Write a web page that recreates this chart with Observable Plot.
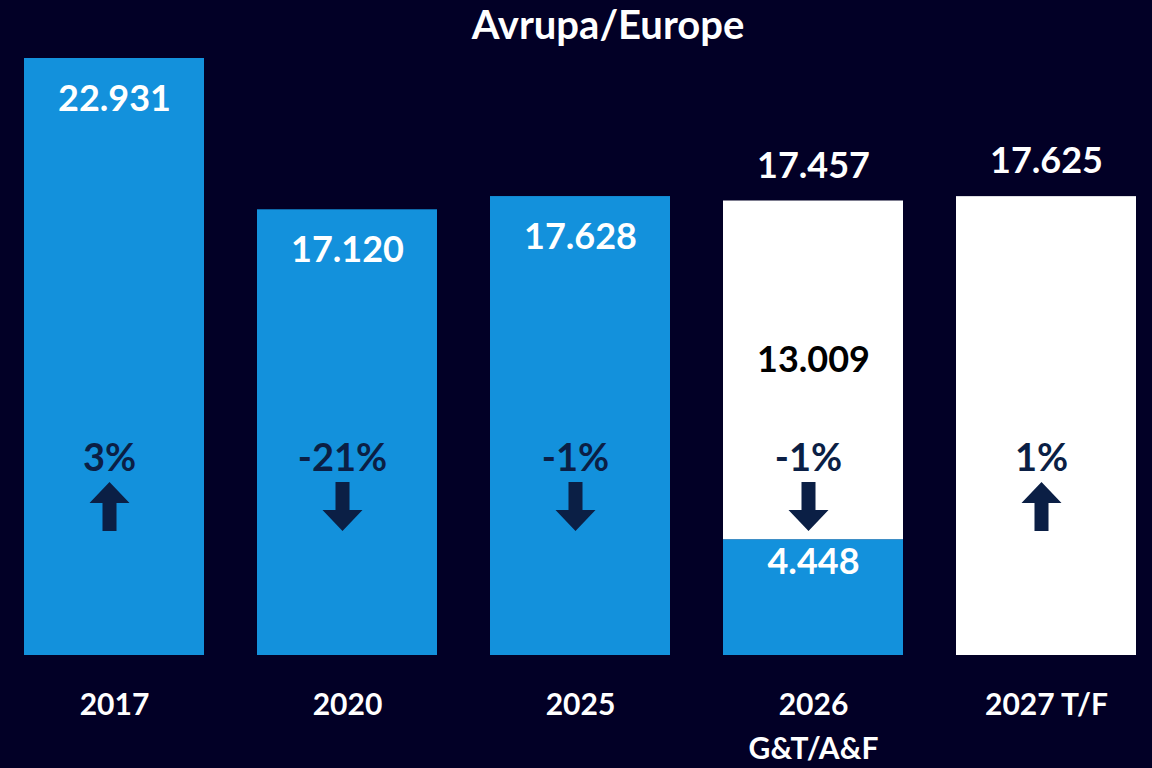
<!DOCTYPE html>
<html><head><meta charset="utf-8">
<script src="https://cdn.jsdelivr.net/npm/d3@7"></script>
<script src="https://cdn.jsdelivr.net/npm/@observablehq/plot@0.6"></script>
<style>
html,body{margin:0;padding:0;background:#020026;overflow:hidden;}
</style></head><body><div id="chart"></div>
<script>
// ---- data ----
const title = "Avrupa/Europe";
const categories = ["2017", "2020", "2025", "2026", "2027"];
const tickLabels = ["2017", "2020", "2025", "2026\nG&T/A&F", "2027 T/F"];
const totals = [22.931, 17.120, 17.628, 17.457, 17.625];
const changeLabels = ["3%", "-21%", "-1%", "-1%", "1%"];
const changeDirection = [1, -1, -1, -1, 1];
const segmentCategory = ["2017", "2020", "2025", "2026", "2026", "2027"];
const segmentValue = [22.931, 17.120, 17.628, 4.448, 13.009, 17.625];
const segmentKind = ["actual", "actual", "actual", "actual", "target", "target"];

// ---- styles ----
const BG = "#020026", BLUE = "#1391dc", WHITE = "#ffffff", NAVY = "#0b1f45";
const FONT = "Lato, 'Open Sans', sans-serif";

const segments = segmentCategory.map((c, i) => ({cat: c, value: segmentValue[i], kind: segmentKind[i]}));
const segCount = d3.rollup(segments, v => v.length, d => d.cat);
const topKind = new Map(categories.map(c => [c, segments.filter(s => s.cat === c).at(-1).kind]));
const fmt = v => v.toFixed(3);

const blockArrow = {
  draw(context, l) {
    const h = l / 2, hw = 20, sw = 7, headH = 21;
    context.moveTo(0, -h);
    context.lineTo(hw, -h + headH);
    context.lineTo(sw, -h + headH);
    context.lineTo(sw, h);
    context.lineTo(-sw, h);
    context.lineTo(-sw, -h + headH);
    context.lineTo(-hw, -h + headH);
    context.closePath();
  }
};

const chart = Plot.plot({
  width: 1152,
  height: 768,
  marginTop: 58,
  marginBottom: 113,
  marginLeft: 23,
  marginRight: 16,
  style: {background: BG, color: "white", fontFamily: FONT},
  x: {domain: categories, paddingInner: 0.2275, paddingOuter: 0, axis: null},
  y: {domain: [0, d3.max(totals)], axis: null},
  color: {type: "ordinal", domain: ["actual", "target"], range: [BLUE, WHITE]},
  marks: [
    Plot.barY(segments, Plot.stackY({x: "cat", y: "value", fill: "kind", inset: 0})),
    // total labels inside (blue-topped bars)
    Plot.text(categories, {
      filter: c => topKind.get(c) === "actual",
      x: d => d, y: (d, i) => totals[i], text: (d, i) => fmt(totals[i]),
      dy: 41, fill: "white", fontSize: 36, fontWeight: "bold", fontFamily: FONT
    }),
    // total labels above (white-topped bars)
    Plot.text(categories, {
      filter: c => topKind.get(c) === "target",
      x: d => d, y: (d, i) => totals[i], text: (d, i) => fmt(totals[i]),
      dy: -35, fill: "white", fontSize: 36, fontWeight: "bold", fontFamily: FONT
    }),
    // segment labels in stacked bar: white part (middle)
    Plot.text(segments, Plot.stackY({
      x: "cat", y: "value",
      text: d => segCount.get(d.cat) > 1 && d.kind === "target" ? fmt(d.value) : null,
      dy: -10, fill: "#000000", fontSize: 36, fontWeight: "bold", fontFamily: FONT
    })),
    // segment labels in stacked bar: blue part (near top)
    Plot.text(segments, Plot.stackY2({
      x: "cat", y: "value",
      text: d => segCount.get(d.cat) > 1 && d.kind === "actual" ? fmt(d.value) : null,
      dy: 23, fill: "white", fontSize: 36, fontWeight: "bold", fontFamily: FONT
    })),
    // change percentages
    Plot.text(categories, {
      x: d => d, text: (d, i) => changeLabels[i],
      frameAnchor: "bottom", dy: -185, dx: -5,
      fill: NAVY, fontSize: 38, fontWeight: "bold", fontFamily: FONT
    }),
    // arrows
    Plot.vector(categories, {
      x: d => d, frameAnchor: "bottom", dy: -149, dx: -5,
      length: 49, rotate: (d, i) => changeDirection[i] > 0 ? 0 : 180,
      anchor: "start", shape: blockArrow, fill: NAVY, stroke: "none"
    }),
    Plot.axisX({
      tickSize: 0, tickPadding: 29, fontSize: 30, fontWeight: "bold", fontFamily: FONT,
      fill: "white", lineHeight: 1.45, label: null,
      tickFormat: d => tickLabels[categories.indexOf(d)]
    }),
    // title
    Plot.text([title], {
      frameAnchor: "top", dy: -48, dx: 28, text: d => d,
      fill: "white", fontSize: 40, fontWeight: "bold", fontFamily: FONT
    })
  ]
});
document.getElementById("chart").appendChild(chart);
</script>
</body></html>
